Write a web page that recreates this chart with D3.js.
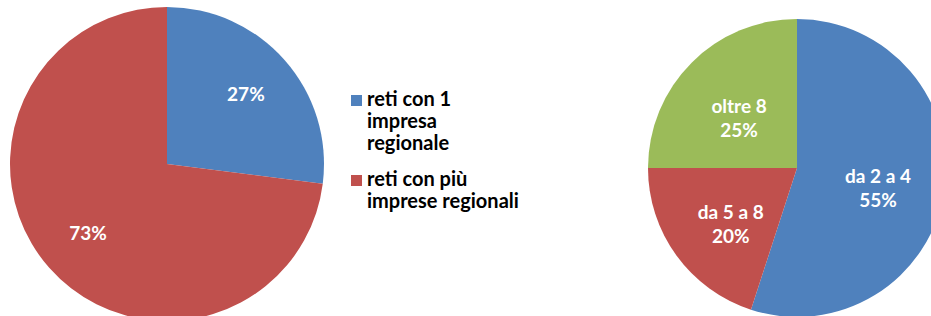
<!DOCTYPE html>
<html>
<head>
<meta charset="utf-8">
<script src="https://cdn.jsdelivr.net/npm/d3@7"></script>
<style>
  body { margin: 0; background: #fff; }
  text { font-family: Lato, "Liberation Sans", sans-serif; font-weight: 700; }
</style>
</head>
<body>
<div class="canvas"></div>
<script>
const dims = { height: 316, width: 931 }

// left pie data
const leftCategories = ['reti con 1 impresa regionale', 'reti con più imprese regionali']
const leftValues = [27, 73]
const leftLegendLines = [['reti con 1', 'impresa', 'regionale'], ['reti con più', 'imprese regionali']]

// right pie data
const rightCategories = ['da 2 a 4', 'da 5 a 8', 'oltre 8']
const rightValues = [55, 20, 25]

const leftColors = ['#4F81BD', '#C0504D']
const rightColors = ['#4F81BD', '#C0504D', '#9BBB59']

const svg = d3.select('.canvas')
              .append('svg')
              .attr('width', dims.width)
              .attr('height', dims.height)

const pie = d3.pie().sort(null).value(d => d)

// draw one pie
const drawPie = (values, colors, cx, cy, r, labelRatio, labelShift, labels) => {
  const g = svg.append('g').attr('transform', `translate(${cx}, ${cy})`)
  const arc = d3.arc().innerRadius(0).outerRadius(r)
  const labelArc = d3.arc().innerRadius(r * labelRatio).outerRadius(r * labelRatio)
  const slices = pie(values)

  g.selectAll('path')
   .data(slices)
   .enter()
   .append('path')
   .attr('d', arc)
   .attr('fill', (d, i) => colors[i])

  const txt = g.selectAll('text.lbl')
               .data(slices)
               .enter()
               .append('text')
               .attr('class', 'lbl')
               .attr('fill', 'white')
               .attr('font-size', 19)
               .attr('text-anchor', 'middle')
               .attr('transform', d => {
                 const c = labelArc.centroid(d)
                 return `translate(${c[0]}, ${c[1] + labelShift})`
               })

  txt.each(function(d, i) {
    const lines = labels ? [labels[i], d.data + '%'] : [d.data + '%']
    const t = d3.select(this)
    lines.forEach((l, j) => {
      t.append('tspan')
       .attr('x', 0)
       .attr('y', (j - (lines.length - 1) / 2) * 24)
       .attr('dy', '0.35em')
       .text(l)
    })
  })
}

drawPie(leftValues, leftColors, 167, 164, 157, 0.67, 0, null)
drawPie(rightValues, rightColors, 797, 168, 149, 0.55, 8, rightCategories)

// legend
const legend = svg.append('g').attr('transform', 'translate(351, 106)')
let yOff = 0
leftLegendLines.forEach((lines, i) => {
  const item = legend.append('g').attr('transform', `translate(0, ${yOff})`)
  item.append('rect')
      .attr('x', 0)
      .attr('y', -11)
      .attr('width', 11)
      .attr('height', 11)
      .attr('fill', leftColors[i])
  const t = item.append('text')
                .attr('fill', '#000')
                .attr('font-size', 20)
  lines.forEach((l, j) => {
    t.append('tspan').attr('x', 16).attr('y', j * 22).text(l)
  })
  yOff += lines.length * 22 + 14
})
</script>
</body>
</html>
